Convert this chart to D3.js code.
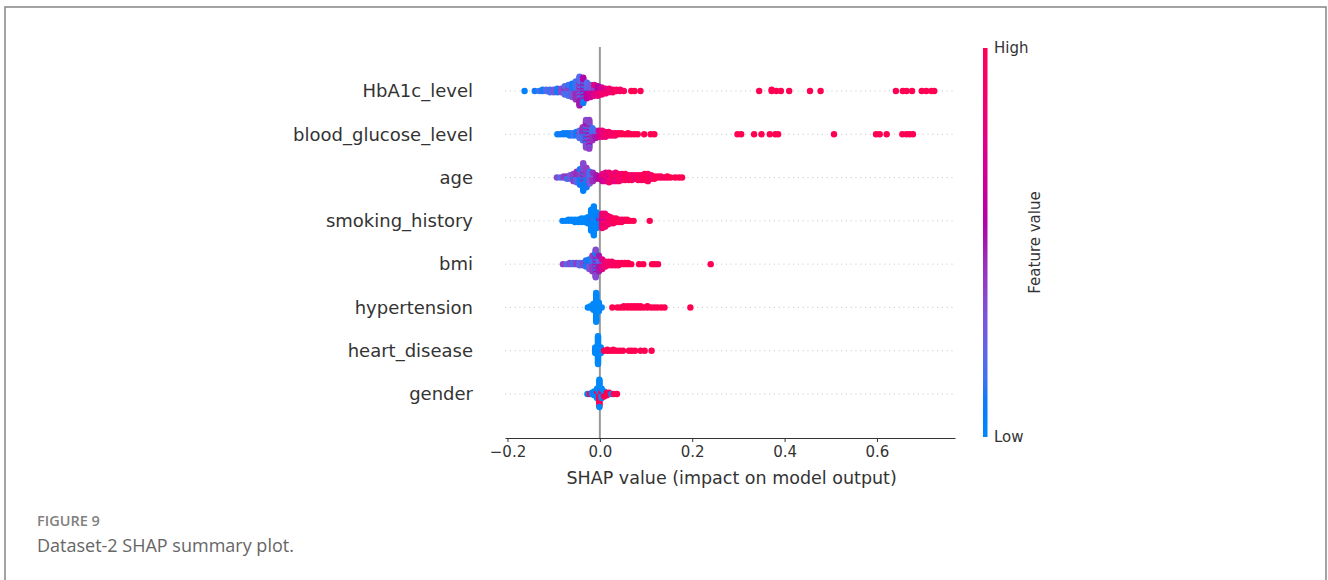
<!DOCTYPE html>
<html><head><meta charset="utf-8">
<script src="https://cdn.jsdelivr.net/npm/d3@7"></script>
<style>body{margin:0;background:#fff;} svg{display:block}</style>
</head><body><svg id="chart" width="1328" height="580"></svg>
<script>
// ---------- DATA ----------
const features = ["HbA1c_level","blood_glucose_level","age","smoking_history","bmi","hypertension","heart_disease","gender"];
const xTicks = [-0.2, 0.0, 0.2, 0.4, 0.6];
const xLabel = "SHAP value (impact on model output)";
const colorbarLabels = {high: "High", low: "Low", title: "Feature value"};
const captionTitle = "FIGURE 9";
const captionText = "Dataset-2 SHAP summary plot.";

// each entry: [SHAP value, feature value (0 = low, 1 = high), number of samples]
const hba1c = [
  [-0.163,0.05,1],[-0.141,0.1,1],[-0.131,0.15,1],[-0.124,0.1,2],[-0.116,0.2,2],[-0.108,0.15,3],[-0.1,0.3,3],
  [-0.092,0.1,4],[-0.084,0.35,4],[-0.076,0.2,5],[-0.076,0.45,3],[-0.068,0.15,6],[-0.068,0.4,4],
  [-0.06,0.3,6],[-0.06,0.1,6],[-0.052,0.45,8],[-0.052,0.15,8],[-0.044,0.2,10],[-0.044,0.5,10],[-0.044,0.35,5],
  [-0.036,0.1,8],[-0.036,0.55,8],[-0.036,0.4,6],[-0.028,0.6,7],[-0.028,0.2,7],[-0.02,0.65,6],[-0.02,0.3,5],
  [-0.012,0.75,6],[-0.012,0.4,4],[-0.004,0.8,5],[-0.004,0.55,4],[0.004,0.85,4],[0.004,0.7,3],
  [0.012,0.9,3],[0.012,0.75,2],[0.02,0.85,4],[0.028,0.9,3],[0.036,0.95,2],[0.044,0.9,2],[0.052,0.95,1],
  [0.068,1,1],[0.075,1,1],[0.088,1,1],
  [0.345,1,1],[0.372,1,2],[0.382,1,1],[0.392,1,1],[0.41,1,1],[0.455,1,1],[0.478,1,1],
  [0.641,1,1],[0.656,1,1],[0.664,1,1],[0.676,1,1],[0.697,1,1],[0.707,1,1],[0.718,1,1],[0.724,1,1]
];
const bloodGlucose = [
  [-0.092,0.05,1],[-0.086,0.1,1],[-0.079,0.05,2],[-0.072,0.1,2],[-0.065,0.05,3],[-0.058,0.15,3],[-0.051,0.1,4],
  [-0.044,0.2,5],[-0.044,0.4,2],[-0.037,0.15,6],[-0.037,0.45,6],[-0.03,0.35,10],[-0.03,0.1,6],[-0.03,0.5,8],
  [-0.023,0.4,10],[-0.023,0.2,8],[-0.023,0.55,7],[-0.016,0.45,6],[-0.016,0.15,5],[-0.009,0.5,4],[-0.009,0.2,3],
  [-0.002,0.7,4],[-0.002,0.3,2],[0.005,0.8,6],[0.012,0.85,5],[0.019,0.9,4],[0.026,0.9,3],[0.033,0.95,3],
  [0.04,0.95,2],[0.047,1,2],[0.054,1,1],[0.061,1,2],[0.068,1,1],[0.075,1,1],[0.082,1,1],[0.096,1,1],[0.11,1,1],[0.118,1,1],
  [0.298,1,1],[0.306,1,1],[0.334,1,1],[0.35,1,1],[0.368,1,1],[0.38,1,1],[0.386,1,1],[0.507,1,1],
  [0.598,1,1],[0.606,1,1],[0.621,1,1],[0.655,1,1],[0.664,1,1],[0.671,1,1],[0.678,1,1]
];
const age = [
  [-0.093,0.35,1],[-0.085,0.2,1],[-0.078,0.4,2],[-0.071,0.15,2],[-0.071,0.45,1],[-0.064,0.3,4],
  [-0.057,0.1,3],[-0.057,0.4,4],[-0.05,0.2,5],[-0.05,0.45,5],[-0.043,0.1,8],[-0.043,0.4,6],
  [-0.036,0.05,10],[-0.036,0.35,10],[-0.036,0.5,4],[-0.029,0.1,9],[-0.029,0.4,8],[-0.022,0.3,6],[-0.022,0.15,5],
  [-0.015,0.45,5],[-0.015,0.25,3],[-0.008,0.5,4],[-0.001,0.6,3],[0.006,0.65,4],[0.006,0.8,3],
  [0.013,0.75,5],[0.013,0.9,3],[0.02,0.85,6],[0.02,0.7,3],[0.027,0.9,7],[0.034,0.8,5],[0.034,1,3],
  [0.041,0.95,7],[0.048,0.85,6],[0.055,1,6],[0.062,0.9,5],[0.069,0.95,5],[0.076,0.85,4],[0.083,1,5],
  [0.09,0.9,5],[0.097,1,6],[0.104,0.95,7],[0.111,0.9,4],[0.118,1,3],[0.125,0.95,2],[0.132,1,2],
  [0.139,0.9,1],[0.146,1,2],[0.153,1,1],[0.163,1,1],[0.171,1,1],[0.178,1,1]
];
const smokingHistory = [
  [-0.081,0.02,1],[-0.075,0.02,1],[-0.068,0.02,2],[-0.061,0.02,2],[-0.054,0.02,3],[-0.047,0.02,3],
  [-0.04,0.02,4],[-0.033,0.02,4],[-0.026,0.02,6],[-0.019,0.02,14],[-0.019,0.1,4],[-0.013,0.02,22],[-0.013,0.15,3],
  [-0.007,0.02,14],[-0.001,0.05,6],[-0.001,0.5,3],[0.005,0.85,10],[0.005,0.6,3],[0.011,0.9,9],[0.011,0.7,3],
  [0.017,0.85,8],[0.023,0.95,6],[0.029,0.9,5],[0.035,1,4],[0.041,0.95,3],[0.047,1,3],[0.053,0.9,2],
  [0.059,1,2],[0.066,1,1],[0.073,1,1],[0.108,1,1]
];
const bmi = [
  [-0.08,0.4,1],[-0.072,0.2,1],[-0.065,0.35,2],[-0.058,0.15,2],[-0.051,0.4,2],[-0.044,0.2,3],[-0.037,0.35,3],
  [-0.03,0.1,4],[-0.03,0.45,2],[-0.023,0.3,5],[-0.023,0.1,4],[-0.016,0.4,8],[-0.016,0.15,6],
  [-0.009,0.35,10],[-0.009,0.6,6],[-0.009,0.1,8],[-0.002,0.5,8],[-0.002,0.2,6],[0.005,0.75,6],[0.005,0.4,3],
  [0.012,0.85,5],[0.019,0.9,4],[0.026,0.95,4],[0.033,0.9,3],[0.04,1,3],[0.047,0.95,2],[0.054,1,2],
  [0.061,1,2],[0.068,1,1],[0.085,1,1],[0.094,1,1],[0.113,1,1],[0.119,1,1],[0.126,1,1],[0.24,1,1]
];
const hypertension = [
  [-0.026,0,1],[-0.02,0,2],[-0.014,0,6],[-0.008,0,25],[-0.002,0,8],[0.004,0,1],
  [0.027,1,1],[0.038,1,1],[0.045,1,1],[0.052,1,2],[0.06,1,2],[0.067,1,2],[0.074,1,2],[0.081,1,2],
  [0.088,1,2],[0.095,1,1],[0.103,1,2],[0.111,1,1],[0.118,1,1],[0.125,1,1],[0.133,1,1],[0.14,1,1],[0.196,1,1]
];
const heartDisease = [
  [-0.01,0,6],[-0.004,0,26],[0.002,0,6],[0.009,1,1],[0.016,1,2],[0.022,1,1],[0.029,1,2],[0.036,1,1],
  [0.043,1,1],[0.05,1,1],[0.063,1,1],[0.069,1,1],[0.076,1,1],[0.088,1,1],[0.097,1,1],[0.112,1,1]
];
const gender = [
  [-0.027,0,1],[-0.022,1,1],[-0.017,0,2],[-0.012,0,3],[-0.012,1,1],[-0.006,0,5],[-0.006,1,3],
  [-0.001,1,10],[-0.001,0,12],[0.004,0,5],[0.004,1,3],[0.009,1,3],[0.009,0,2],[0.015,1,3],
  [0.02,1,2],[0.025,0,1],[0.03,1,1],[0.037,1,1]
];
const seriesByFeature = [hba1c, bloodGlucose, age, smokingHistory, bmi, hypertension, heartDisease, gender];

// ---------- CHART ----------
const svg = d3.select("#chart");
const FONT = "'DejaVu Sans', sans-serif";

// figure frame
svg.append("rect").attr("x",5).attr("y",7).attr("width",1321).attr("height",600)
  .attr("fill","none").attr("stroke","#8c8c8c").attr("stroke-width",1.6);

const x = d3.scaleLinear().domain([-0.2054, 0.769]).range([505, 955]);
const y = d3.scalePoint().domain(features).range([91, 394]);
const plotTop = 47, plotBottom = 438;

// SHAP red-blue colour map (Lch interpolation)
function shapColor(t){
  const h = 266.93 + t*(380.32-266.93);
  const c = 70 + 20*t;
  const l = t < 0.5 ? 54 - 28*t : 40 + 28*(t-0.5);
  return d3.hcl(h, c, l).formatHex();
}

// grid lines
svg.append("g").selectAll("line").data(features).join("line")
  .attr("x1", x.range()[0]).attr("x2", x.range()[1])
  .attr("y1", d=>y(d)).attr("y2", d=>y(d))
  .attr("stroke","#cccccc").attr("stroke-width",1).attr("stroke-dasharray","1.2,3.6");

// zero line
svg.append("line").attr("x1",x(0)).attr("x2",x(0)).attr("y1",plotTop).attr("y2",plotBottom)
  .attr("stroke","#999999").attr("stroke-width",2);

// beeswarm layout (SHAP style stacking)
function layout(data){
  const groups = d3.group(data, d=>d[0]);
  const pts = [];
  for (const [v, trips] of groups){
    const qs = trips.map(t=>({fv:t[1], n:t[2]}));
    let remaining = d3.sum(qs, q=>q.n), layer = 0;
    while (remaining > 0){
      for (const q of qs){
        if (q.n > 0){
          q.n--; remaining--;
          const ys = Math.ceil(layer/2) * ((layer%2)*2 - 1);
          pts.push({v, fv:q.fv, ys});
          layer++;
        }
      }
    }
  }
  const maxYs = d3.max(pts, p=>p.ys);
  const k = 0.9*0.4/(maxYs+1);
  pts.forEach(p=>p.off = p.ys*k);
  return pts;
}

const dots = svg.append("g");
features.forEach((f,i)=>{
  const pts = layout(seriesByFeature[i]);
  dots.append("g").selectAll("circle").data(pts).join("circle")
    .attr("cx", d=>x(d.v))
    .attr("cy", d=>y(f) - d.off*y.step())
    .attr("r", 3.2)
    .attr("fill", d=>shapColor(d.fv));
});

// feature labels
svg.append("g").selectAll("text").data(features).join("text")
  .attr("x", 473).attr("y", d=>y(d)).attr("dy","0.35em")
  .attr("text-anchor","end").attr("font-family",FONT).attr("font-size",18).attr("fill","#333")
  .text(d=>d);

// x axis
const axis = svg.append("g").attr("transform",`translate(0,${plotBottom})`)
  .call(d3.axisBottom(x).tickValues(xTicks).tickFormat(d3.format(".1f")).tickSize(4).tickSizeOuter(0));
axis.select(".domain").attr("stroke","#333").attr("stroke-width",1.2);
axis.selectAll(".tick line").attr("stroke","#333");
axis.selectAll(".tick text").attr("font-family",FONT).attr("font-size",15).attr("fill","#333").attr("y",8);

svg.append("text").attr("x", x(0.2854)).attr("y", 484).attr("text-anchor","middle")
  .attr("font-family",FONT).attr("font-size",17.5).attr("fill","#333").text(xLabel);

// colour bar
const defs = svg.append("defs");
const grad = defs.append("linearGradient").attr("id","cbar").attr("x1",0).attr("y1",1).attr("x2",0).attr("y2",0);
d3.range(0,1.0001,0.05).forEach(t=>grad.append("stop").attr("offset",t).attr("stop-color",shapColor(t)));
const cbTop = 48, cbBottom = 437;
svg.append("rect").attr("x",983).attr("y",cbTop).attr("width",4.5).attr("height",cbBottom-cbTop).attr("fill","url(#cbar)");
svg.append("text").attr("x",994).attr("y",cbTop).attr("dy","0.35em").attr("font-family",FONT).attr("font-size",15).attr("fill","#333").text(colorbarLabels.high);
svg.append("text").attr("x",994).attr("y",cbBottom).attr("dy","0.35em").attr("font-family",FONT).attr("font-size",15).attr("fill","#333").text(colorbarLabels.low);
svg.append("text").attr("transform",`translate(1035,${(cbTop+cbBottom)/2}) rotate(-90)`).attr("text-anchor","middle").attr("dy","0.35em")
  .attr("font-family",FONT).attr("font-size",15).attr("fill","#333").text(colorbarLabels.title);

// caption
svg.append("text").attr("x",37).attr("y",526).attr("font-family","'Open Sans', sans-serif").attr("font-weight",600)
  .attr("font-size",14.5).attr("fill","#808080").text(captionTitle);
svg.append("text").attr("x",37).attr("y",552).attr("font-family","'Open Sans', sans-serif")
  .attr("font-size",18).attr("fill","#666").text(captionText);
</script></body></html>
